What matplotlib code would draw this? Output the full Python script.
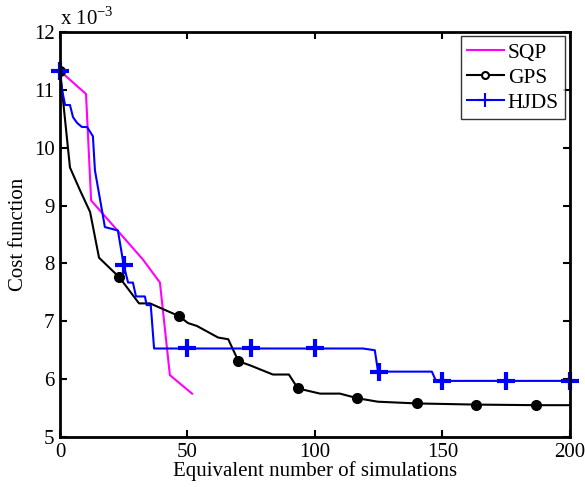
import matplotlib
matplotlib.use("Agg")
import matplotlib.pyplot as plt
from matplotlib.lines import Line2D

plt.rcParams['font.family'] = ['Liberation Serif', 'DejaVu Serif']
plt.rcParams['mathtext.fontset'] = 'custom'
plt.rcParams['mathtext.rm'] = 'Liberation Serif'

# Cost function values in units of 1e-3
sqp_x = [0, 10.2, 12.2, 32.5, 39.2, 43.1, 51.8]
sqp_y = [11.33, 10.93, 9.09, 8.07, 7.67, 6.07, 5.75]

gps_x = [0, 3.9, 7.8, 11.8, 15.3, 23.3, 31.0, 35.3, 46.7, 50.2, 53.7, 62.0, 66.0,
         70.0, 74.5, 83.5, 89.8, 93.3, 102.0, 109.8, 116.7, 124.7, 140.0, 163.3,
         186.7, 200]
gps_y = [11.33, 9.66, 9.27, 8.89, 8.10, 7.76, 7.31, 7.31, 7.09, 6.97, 6.92, 6.72,
         6.69, 6.31, 6.24, 6.08, 6.08, 5.84, 5.75, 5.75, 5.67, 5.61, 5.58, 5.56,
         5.55, 5.55]
gps_mark_x = [0, 23.3, 46.7, 70.0, 93.3, 116.7, 140.0, 163.3, 186.7]
gps_mark_y = [11.33, 7.76, 7.09, 6.31, 5.84, 5.67, 5.58, 5.56, 5.55]

hjds_x = [0, 0.8, 2.0, 3.9, 5.1, 6.7, 8.6, 10.6, 12.9, 13.7, 17.6, 22.7, 25.0,
          26.7, 28.6, 29.8, 33.3, 34.0, 35.6, 36.9, 118.8, 123.5, 124.7, 125.0,
          145.9, 147.5, 200]
hjds_y = [11.33, 11.0, 10.74, 10.74, 10.53, 10.43, 10.36, 10.36, 10.2, 9.61, 8.63,
          8.57, 7.97, 7.67, 7.67, 7.43, 7.43, 7.28, 7.28, 6.53, 6.53, 6.5, 6.15,
          6.13, 6.13, 5.97, 5.97]
hjds_mark_x = [0, 25, 50, 75, 100, 125, 150, 175, 200]
hjds_mark_y = [11.33, 7.97, 6.53, 6.53, 6.53, 6.13, 5.97, 5.97, 5.97]

fig = plt.figure(figsize=(5.85, 4.87), dpi=100)
ax = fig.add_axes([0.1026, 0.1027, 0.8714, 0.8313])

ax.plot(sqp_x, sqp_y, color='#ff00ff', lw=1.5)
ax.plot(gps_x, gps_y, color='black', lw=1.5)
ax.plot(gps_mark_x, gps_mark_y, 'o', color='black', ms=8, mew=0)
ax.plot(hjds_x, hjds_y, color='#0000ff', lw=1.5)
ax.plot(hjds_mark_x, hjds_mark_y, '+', color='#0000ff', ms=13, mew=3, clip_on=False)

handles = [Line2D([], [], color='#ff00ff', lw=1.5),
           Line2D([], [], color='black', lw=1.5, marker='o', ms=5, mfc='white', mew=1.5),
           Line2D([], [], color='#0000ff', lw=1.5, marker='+', ms=10, mew=1.5)]
leg = ax.legend(handles, ['SQP', 'GPS', 'HJDS'], loc='upper right', fontsize=15.5,
                frameon=True, fancybox=False, edgecolor='black', handlelength=1.7,
                handletextpad=0.2, borderpad=0.3, labelspacing=0.22,
                borderaxespad=0.2)
leg.get_frame().set_linewidth(1.0)

ax.set_xlim(0, 200)
ax.set_ylim(5, 12)
ax.set_xticks([0, 50, 100, 150, 200])
ax.set_yticks([5, 6, 7, 8, 9, 10, 11, 12])
ax.tick_params(direction='in', top=True, right=True, labelsize=15, length=5,
               width=1.5, pad=4)
for s in ax.spines.values():
    s.set_linewidth(2)

ax.set_xlabel('Equivalent number of simulations', fontsize=15, labelpad=0)
ax.set_ylabel('Cost function', fontsize=15, labelpad=4)
ax.text(0.0, 1.005, r'x 10$^{-3}$', transform=ax.transAxes, fontsize=15,
        ha='left', va='bottom')

fig.savefig('out.png', dpi=100)
